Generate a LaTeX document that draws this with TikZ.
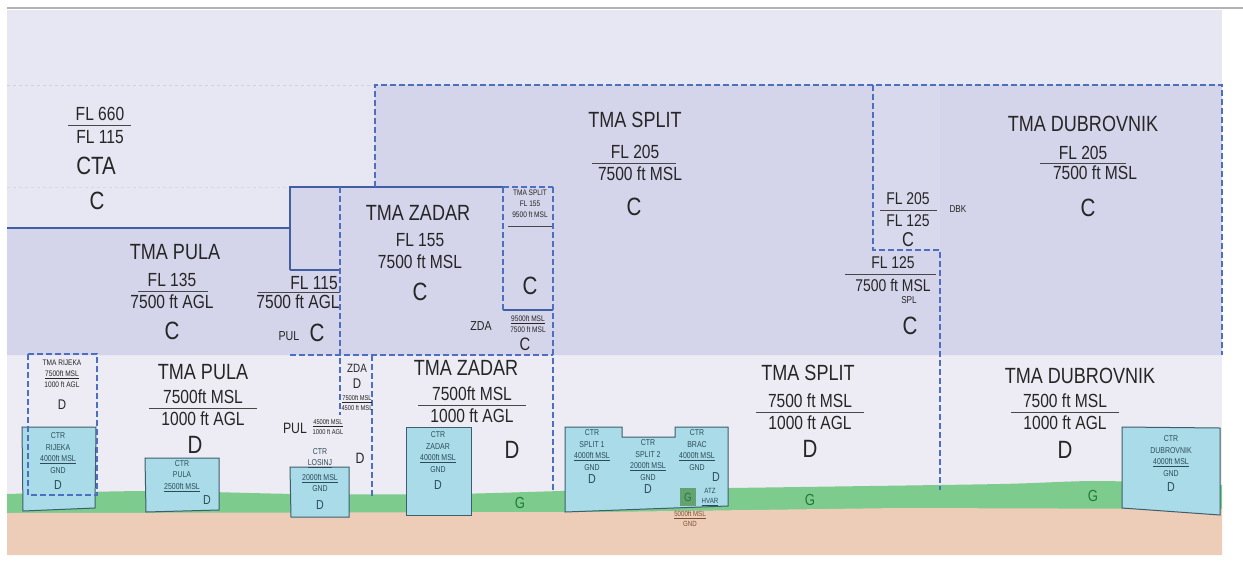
\documentclass[tikz,border=0pt]{standalone}
\usepackage{fontspec}
\setmainfont{Liberation Sans}[FakeStretch=0.82]
\definecolor{skyA}{HTML}{E7E7F3}
\definecolor{skyB}{HTML}{EDEBF4}
\definecolor{tmaC}{HTML}{D4D4EA}
\definecolor{dbkC}{HTML}{D9D9EE}
\definecolor{ctrF}{HTML}{A9DCE8}
\definecolor{ctrE}{HTML}{3D5E6A}
\definecolor{grass}{HTML}{7ECB8E}
\definecolor{soil}{HTML}{EDCDB8}
\definecolor{bord}{HTML}{4C6FC0}
\definecolor{ink}{HTML}{262626}
\definecolor{ctrT}{HTML}{2E4B5A}
\definecolor{gink}{HTML}{1F7A3A}
\definecolor{atzT}{HTML}{7A4E34}
\begin{document}
\begin{tikzpicture}[x=1pt,y=-1pt,
    hdtxt/.style={text=ink, font=\fontsize{22}{24}\selectfont, inner sep=0pt},
    alttxt/.style={text=ink, font=\fontsize{19}{21}\selectfont, inner sep=0pt},
    clstxt/.style={text=ink, font=\fontsize{25}{27}\selectfont, inner sep=0pt},
    midtxt/.style={text=ink, font=\fontsize{13}{15}\selectfont, inner sep=0pt},
    smtxt/.style={text=ink, font=\fontsize{8}{11}\selectfont, align=center, inner sep=0pt},
    ctrtxt/.style={text=ctrT, font=\fontsize{8.5}{11.5}\selectfont, align=center, inner sep=0pt},
    gtxt/.style={text=gink, font=\fontsize{16}{18}\selectfont, inner sep=0pt},
    ctrbox/.style={fill=ctrF, draw=ctrE, line width=1pt},
    tmaline/.style={draw=bord, line width=1.1pt, dash pattern=on 6pt off 3pt},
    solidline/.style={draw=bord!85!black, line width=1.3pt},
    divline/.style={draw=ink!85, line width=0.8pt}
]
\useasboundingbox (0,0) rectangle (1243,582);
\fill[white] (0,0) rectangle (1243,582);
% sky and airspace bands
\fill[skyA] (7,10) rectangle (1222,555);
\fill[skyB] (7,355) rectangle (1222,500);
\fill[tmaC] (7,228) -- (290,228) -- (290,187) -- (375,187) -- (375,85)
    -- (1222,85) -- (1222,355) -- (7,355) -- cycle;
\fill[dbkC] (873,85) rectangle (940,250);
\draw[gray!60, line width=1.5pt] (7,8) -- (1243,8);
\draw[gray!35, dashed] (7,85) -- (375,85);
\draw[gray!30, dashed] (7,187) -- (290,187);
% terrain
\fill[grass] plot[smooth] coordinates {(7,494) (150,491) (300,494) (450,494)
    (600,490) (800,487) (1000,484) (1100,481) (1222,485)} -- (1222,512) -- (7,514) -- cycle;
\fill[soil] (7,513) -- (600,512) -- (900,508) -- (1222,509) -- (1222,555) -- (7,555) -- cycle;
% control zones
\draw[ctrbox] (22,427) -- (96,427) -- (95,508) -- (23,511) -- cycle;
\draw[ctrbox] (145,458) -- (219,458) -- (219,510) -- (146,512) -- cycle;
\draw[ctrbox] (290,467) -- (349,467) -- (349,517) -- (291,517) -- cycle;
\draw[ctrbox] (406,427) -- (471,427) -- (471,515) -- (406,515) -- cycle;
\draw[ctrbox] (565,427) -- (622,427) -- (622,437) -- (675,437) -- (675,427)
    -- (728,427) -- (728,506) -- (565,512) -- cycle;
\draw[ctrbox] (1122,427) -- (1220,428) -- (1220,515) -- (1122,508) -- cycle;
\fill[grass!80!black] (680,488) rectangle (696,506);
% TMA borders
\draw[solidline] (7,228) -- (290,228);
\draw[solidline] (290,270) -- (290,187) -- (503,187);
\draw[solidline] (290,270) -- (340,270);
\draw[solidline] (503,310) -- (553,310);
\draw[tmaline] (375,187) -- (375,85) -- (1222,85) -- (1222,355);
\draw[tmaline] (503,187) -- (553,187);
\draw[tmaline] (503,187) -- (503,310);
\draw[tmaline] (553,187) -- (553,492);
\draw[tmaline] (340,187) -- (340,415);
\draw[tmaline] (372,355) -- (372,497);
\draw[tmaline] (290,355) -- (553,355);
\draw[tmaline] (873,85) -- (873,250) -- (940,250) -- (940,490);
\draw[tmaline] (28,354) rectangle (97,495);
% CTA
\node[alttxt] (ctaTop) at (100,114) {FL 660};
\node[alttxt] (ctaBot) at (100,137) {FL 115};
\draw[divline] (68,125) -- (131,125);
\node[clstxt] (ctaName) at (96,166) {CTA};
\node[clstxt] (ctaCls) at (97,201) {C};
% TMA class C parts
\node[hdtxt] (pulaName) at (175,252) {TMA PULA};
\node[alttxt] (pulaTop) at (172,280) {FL 135};
\draw[divline] (138,291) -- (208,291);
\node[alttxt] (pulaBot) at (172,302) {7500 ft AGL};
\node[clstxt] (pulaCls) at (172,331) {C};
\node[alttxt] (pulTop) at (314,283) {FL 115};
\draw[divline] (258,292) -- (340,292);
\node[alttxt] (pulBot) at (298,302) {7500 ft AGL};
\node[midtxt] (pulTag) at (289,336) {PUL};
\node[clstxt] (pulCls) at (317,333) {C};
\node[hdtxt] (zadName) at (418,213) {TMA ZADAR};
\node[alttxt] (zadTop) at (420,240) {FL 155};
\node[alttxt] (zadBot) at (420,262) {7500 ft MSL};
\node[clstxt] (zadCls) at (420,292) {C};
\node[smtxt] (spsName) at (530,204) {TMA SPLIT\\FL 155\\9500 ft MSL};
\draw[divline] (508,226) -- (552,226);
\node[clstxt] (spsCls) at (530,286) {C};
\node[midtxt] (zdaTag) at (481,326) {ZDA};
\node[smtxt] (zdaAlt) at (528,324) {\underline{9500ft MSL}\\7500 ft MSL};
\node[clstxt, font=\fontsize{18}{20}\selectfont] (zdaCls) at (525,344) {C};
\node[hdtxt] (splName) at (635,120) {TMA SPLIT};
\node[alttxt] (splTop) at (635,152) {FL 205};
\draw[divline] (592,163) -- (676,163);
\node[alttxt] (splBot) at (640,174) {7500 ft MSL};
\node[clstxt] (splCls) at (634,207) {C};
\node[hdtxt] (dbvName) at (1083,124) {TMA DUBROVNIK};
\node[alttxt] (dbvTop) at (1083,153) {FL 205};
\draw[divline] (1040,163) -- (1126,163);
\node[alttxt] (dbvBot) at (1095,173) {7500 ft MSL};
\node[clstxt] (dbvCls) at (1088,208) {C};
\node[alttxt, font=\fontsize{17}{19}\selectfont] (dbkTop) at (908,199) {FL 205};
\draw[divline] (880,210) -- (937,210);
\node[alttxt, font=\fontsize{17}{19}\selectfont] (dbkBot) at (908,221) {FL 125};
\node[smtxt, font=\fontsize{10}{12}\selectfont] (dbkTag) at (958,209) {DBK};
\node[clstxt, font=\fontsize{20}{22}\selectfont] (dbkCls) at (908,240) {C};
\node[alttxt, font=\fontsize{17}{19}\selectfont] (splxTop) at (893,263) {FL 125};
\draw[divline] (845,274) -- (936,274);
\node[alttxt, font=\fontsize{17}{19}\selectfont] (splxBot) at (893,285) {7500 ft MSL};
\node[smtxt, font=\fontsize{10}{12}\selectfont] (splxTag) at (909,300) {SPL};
\node[clstxt] (splxCls) at (910,326) {C};
% TMA class D parts
\foreach \nm/\hx/\hy/\up/\ax/\ay/\dx/\dy [count=\i] in
    {TMA PULA/203/372/7500ft MSL/203/397/195/445,
     TMA ZADAR/466/368/7500ft MSL/472/394/512/450,
     TMA SPLIT/808/373/7500 ft MSL/810/401/810/449,
     TMA DUBROVNIK/1080/376/7500 ft MSL/1065/401/1065/450} {
    \node[hdtxt] (dName\i) at (\hx,\hy) {\nm};
    \node[alttxt] (dTop\i) at (\ax,\ay) {\up};
    \draw[divline] (\ax-54,\ay+11) -- (\ax+54,\ay+11);
    \node[alttxt] (dBot\i) at (\ax,\ay+22) {1000 ft AGL};
    \node[clstxt] (dCls\i) at (\dx,\dy) {D};
}
\node[smtxt] (rjkName) at (62,374) {TMA RIJEKA\\\underline{7500ft MSL}\\1000 ft AGL};
\node[midtxt, font=\fontsize{14}{16}\selectfont] (rjkCls) at (62,405) {D};
\node[midtxt, font=\fontsize{12}{14}\selectfont] (zdaLow) at (357,368) {ZDA};
\node[midtxt, font=\fontsize{14}{16}\selectfont] (zdaD) at (357,384) {D};
\node[smtxt, font=\fontsize{7}{10}\selectfont] (zdaLowAlt) at (357,403) {\underline{7500ft MSL}\\4500 ft MSL};
\node[midtxt, font=\fontsize{15}{17}\selectfont] (pulLow) at (295,428) {PUL};
\node[smtxt, font=\fontsize{7}{9.5}\selectfont] (pulLowAlt) at (328,427) {\underline{4500ft MSL}\\1000 ft AGL};
\node[midtxt, font=\fontsize{15}{17}\selectfont] (pulD) at (360,458) {D};
% control zone labels
\node[ctrtxt] (ctrRjk) at (58,453) {CTR\\RIJEKA\\\underline{4000ft MSL}\\GND};
\node[ctrtxt, font=\fontsize{13}{15}\selectfont] (ctrRjkD) at (58,485) {D};
\node[ctrtxt] (ctrPul) at (182,476) {CTR\\PULA\\\underline{2500ft MSL}};
\node[ctrtxt, font=\fontsize{13}{15}\selectfont] (ctrPulD) at (207,500) {D};
\node[ctrtxt] (ctrLsj) at (320,458) {CTR\\\underline{LOSINJ}};
\node[ctrtxt] (ctrLsjAlt) at (320,483) {\underline{2000ft MSL}\\GND};
\node[ctrtxt, font=\fontsize{13}{15}\selectfont] (ctrLsjD) at (320,505) {D};
\node[ctrtxt] (ctrZad) at (438,452) {CTR\\ZADAR\\\underline{4000ft MSL}\\GND};
\node[ctrtxt, font=\fontsize{13}{15}\selectfont] (ctrZadD) at (438,485) {D};
\node[ctrtxt] (ctrSp1) at (592,450) {CTR\\SPLIT 1\\\underline{4000ft MSL}\\GND};
\node[ctrtxt, font=\fontsize{13}{15}\selectfont] (ctrSp1D) at (592,479) {D};
\node[ctrtxt] (ctrSp2) at (648,460) {CTR\\SPLIT 2\\\underline{2000ft MSL}\\GND};
\node[ctrtxt, font=\fontsize{13}{15}\selectfont] (ctrSp2D) at (648,489) {D};
\node[ctrtxt] (ctrBrc) at (697,450) {CTR\\BRAC\\\underline{4000ft MSL}\\GND};
\node[ctrtxt, font=\fontsize{13}{15}\selectfont] (ctrBrcD) at (716,477) {D};
\node[gtxt, font=\fontsize{12}{14}\selectfont] (atzG) at (688,497) {G};
\node[ctrtxt, font=\fontsize{7.5}{10}\selectfont] (atzName) at (710,497) {ATZ\\\underline{HVAR}};
\node[ctrtxt, text=atzT, font=\fontsize{7.5}{10}\selectfont] (atzAlt) at (690,519) {\underline{5000ft MSL}\\GND};
\node[ctrtxt] (ctrDbv) at (1171,456) {CTR\\DUBROVNIK\\\underline{4000ft MSL}\\GND};
\node[ctrtxt, font=\fontsize{13}{15}\selectfont] (ctrDbvD) at (1171,487) {D};
% class G
\node[gtxt] (gZad) at (520,503) {G};
\node[gtxt] (gSpl) at (810,500) {G};
\node[gtxt] (gDbv) at (1093,496) {G};
\end{tikzpicture}
\end{document}
